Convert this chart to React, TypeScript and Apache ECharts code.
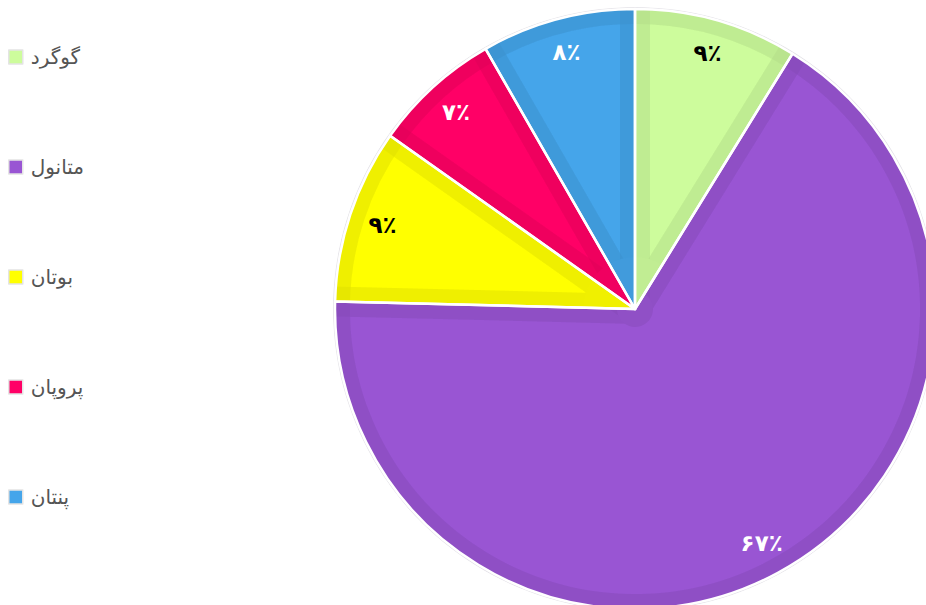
import React, { useEffect, useRef } from "react";
import * as echarts from "echarts";

const categories = ["گوگرد", "متانول", "بوتان", "پروپان", "پنتان"];
const values = [8.8, 66.6, 9.4, 6.9, 8.3];
const colors = ["#CDFC9C", "#9955D3", "#FFFF00", "#FF0066", "#45A5EA"];
const labelColors = ["#000000", "#ffffff", "#000000", "#ffffff", "#ffffff"];

const PERSIAN = "۰۱۲۳۴۵۶۷۸۹";
const toPersian = (n: number) =>
  String(n)
    .split("")
    .map((c) => (c >= "0" && c <= "9" ? PERSIAN[Number(c)] : c))
    .join("");

const darken = (hex: string, f: number) => {
  const h = hex.replace("#", "");
  const r = Math.round(parseInt(h.slice(0, 2), 16) * f);
  const g = Math.round(parseInt(h.slice(2, 4), 16) * f);
  const b = Math.round(parseInt(h.slice(4, 6), 16) * f);
  return `rgb(${r},${g},${b})`;
};

const CENTER = [635, 309];
const R = 300;
const BAND = 15;
const NONE = "rgba(0,0,0,0)";

export default function App() {
  const ref = useRef<HTMLDivElement>(null);
  useEffect(() => {
    if (!ref.current) return;
    const chart = echarts.init(ref.current, null, { renderer: "svg" });
    const base = {
      type: "pie",
      center: CENTER,
      startAngle: 90,
      clockwise: true,
      silent: true,
      label: { show: false },
      labelLine: { show: false },
      emphasis: { disabled: true },
    };
    const mk = (fn: (i: number) => any) =>
      categories.map((name, i) => ({ name, value: values[i], ...fn(i) }));

    chart.setOption({
      animation: false,
      backgroundColor: "#ffffff",
      legend: {
        orient: "vertical",
        left: 8,
        top: 47,
        padding: 0,
        itemWidth: 14,
        itemHeight: 14,
        itemGap: 90,
        icon: "rect",
        selectedMode: false,
        data: categories,
        itemStyle: { borderColor: "#e4e4e4", borderWidth: 1.5 },
        textStyle: {
          fontSize: 20,
          lineHeight: 20,
          color: "#555555",
          fontFamily: "DejaVu Sans",
          padding: [0, 0, 0, 3],
        },
      },
      series: [
        {
          ...base,
          name: "main",
          z: 1,
          radius: [0, R],
          data: mk((i) => ({ itemStyle: { color: colors[i] } })),
        },
        {
          ...base,
          name: "bandEdges",
          z: 2,
          radius: [0, R],
          data: mk(() => ({
            itemStyle: {
              color: NONE,
              borderColor: "rgba(0,0,0,0.032)",
              borderWidth: BAND * 2,
              borderJoin: "round",
            },
          })),
        },
        {
          ...base,
          name: "bandRing",
          z: 3,
          radius: [R - BAND, R],
          data: mk(() => ({ itemStyle: { color: "rgba(0,0,0,0.03)" } })),
        },
        {
          ...base,
          name: "coverSmall",
          z: 4,
          radius: [0, 52],
          data: mk((i) => ({
            itemStyle: { color: i === 1 ? NONE : darken(colors[i], 0.94) },
          })),
        },
        {
          ...base,
          name: "coverCenter",
          z: 5,
          radius: [0, 18],
          data: mk((i) => ({
            itemStyle: { color: i === 1 ? darken(colors[i], 0.94) : NONE },
          })),
        },
        {
          ...base,
          name: "outline",
          z: 6,
          radius: [R, R + 2],
          data: [{ name: "", value: 1, itemStyle: { color: "#e4e2e8" } }],
        },
        {
          ...base,
          name: "mask",
          z: 7,
          radius: [R + 2, R + 40],
          data: [{ name: "", value: 1, itemStyle: { color: "#ffffff" } }],
        },
        {
          ...base,
          name: "separators",
          z: 8,
          radius: [0, R],
          data: mk(() => ({
            itemStyle: { color: NONE, borderColor: "#ffffff", borderWidth: 2.5 },
          })),
        },
        {
          ...base,
          name: "labels",
          z: 9,
          radius: [226, R],
          label: {
            show: true,
            position: "inside",
            fontSize: 23,
            fontWeight: "bold",
            fontFamily: "DejaVu Sans",
            formatter: (p: any) => toPersian(Math.round(p.percent)) + "٪",
          },
          data: mk((i) => ({
            itemStyle: { color: NONE },
            label: { color: labelColors[i] },
          })),
        },
      ],
    });
    return () => chart.dispose();
  }, []);
  return (
    <div
      ref={ref}
      style={{ position: "fixed", left: 0, top: 0, width: 926, height: 605 }}
    />
  );
}
